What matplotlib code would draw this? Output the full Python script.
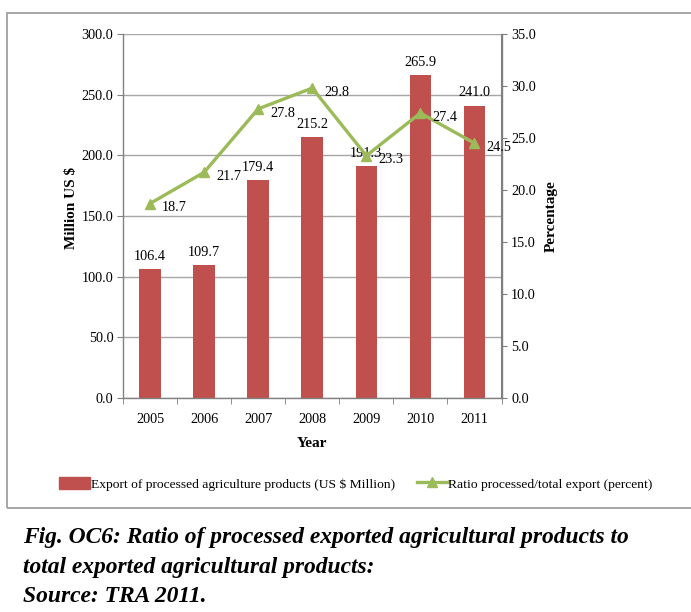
import matplotlib
matplotlib.use("Agg")
import matplotlib.pyplot as plt
from matplotlib.patches import Rectangle
from matplotlib.lines import Line2D
import numpy as np

years = ["2005", "2006", "2007", "2008", "2009", "2010", "2011"]
export_values = [106.4, 109.7, 179.4, 215.2, 191.3, 265.9, 241.0]
ratio_values = [18.7, 21.7, 27.8, 29.8, 23.3, 27.4, 24.5]
left_ticks = [0, 50, 100, 150, 200, 250, 300]
right_ticks = [0, 5, 10, 15, 20, 25, 30, 35]

plt.rcParams['font.family'] = ['Liberation Serif', 'DejaVu Serif']

W, H = 691, 612
fig = plt.figure(figsize=(W / 100, H / 100), dpi=100)

# bounding box of chart
fig.patches.append(Rectangle((7 / W, 1 - 508 / H), (W + 10) / W, (508 - 13) / H,
                             transform=fig.transFigure, fill=False,
                             edgecolor='#A6A6A6', linewidth=1.4))

FS = 10.3
ax_l, ax_r, ax_t, ax_b = 123, 501.5, 34, 398
ax = fig.add_axes([ax_l / W, 1 - ax_b / H, (ax_r - ax_l) / W, (ax_b - ax_t) / H])
x = np.arange(len(years))
ax.bar(x, export_values, width=0.4, color='#C0504D', zorder=2)
ax.set_xlim(-0.5, len(years) - 0.5)
ax.set_ylim(0, 300)
ax.set_yticks(left_ticks)
ax.set_yticklabels([f"{v:.1f}" for v in left_ticks], fontsize=FS)
ax.yaxis.grid(True, color='#A6A6A6', linewidth=1.0, zorder=0)
ax.set_axisbelow(True)
ax.set_xticks(x)
ax.set_xticklabels(years, fontsize=FS)
ax.set_xticks(np.arange(-0.5, len(years), 1), minor=True)
ax.tick_params(axis='x', which='major', length=0, pad=10.5)
ax.tick_params(axis='x', which='minor', length=4, color='#808080', direction='out')
ax.tick_params(axis='y', length=4, color='#808080', pad=3)
ax.spines['top'].set_visible(False)
for s in ['left', 'right', 'bottom']:
    ax.spines[s].set_color('#808080')
    ax.spines[s].set_linewidth(1.0)
ax.set_ylabel("Million US $", fontsize=11, fontweight='bold')
ax.yaxis.set_label_coords(-0.118, 0.522)
ax.set_xlabel("Year", fontsize=11, fontweight='bold', labelpad=8)

for xi, v in zip(x, export_values):
    ax.annotate(f"{v:.1f}", (xi, v), xytext=(0, 4.5), textcoords='offset points',
                ha='center', va='bottom', fontsize=FS)

ax2 = ax.twinx()
ax2.set_ylim(0, 35)
ax2.set_yticks(right_ticks)
ax2.set_yticklabels([f"{v:.1f}" for v in right_ticks], fontsize=FS)
ax2.tick_params(axis='y', length=4, color='#808080', pad=3)
for s in ['top', 'left', 'bottom']:
    ax2.spines[s].set_visible(False)
ax2.spines['right'].set_color('#808080')
ax2.plot(x, ratio_values, color='#9BBB59', linewidth=2.4, marker='^',
         markersize=7, zorder=3)
for xi, v in zip(x, ratio_values):
    ax2.annotate(f"{v:.1f}", (xi, v), xytext=(8.5, -3), textcoords='offset points',
                 ha='left', va='center', fontsize=FS)
ax2.set_ylabel("Percentage", fontsize=11, fontweight='bold', labelpad=6)

handles = [Rectangle((0, 0), 1, 1, color='#C0504D'),
           Line2D([], [], color='#9BBB59', linewidth=2.4, marker='^', markersize=7)]
labels = ["Export of processed agriculture products (US $ Million)",
          "Ratio processed/total export (percent)"]
fig.legend(handles, labels, loc='center', bbox_to_anchor=(356 / W, 1 - 484 / H),
           ncol=2, frameon=False, fontsize=9.7, handlelength=2.3, handletextpad=0.05,
           columnspacing=1.6, handleheight=0.9)

caption = ["Fig. OC6: Ratio of processed exported agricultural products to",
           "total exported agricultural products:",
           "Source: TRA 2011."]
for i, line in enumerate(caption):
    fig.text(23 / W, 1 - (538 + i * 29.5) / H, line, fontsize=16.9,
             fontweight='bold', style='italic', ha='left', va='center')

fig.savefig("out.png", dpi=100)
